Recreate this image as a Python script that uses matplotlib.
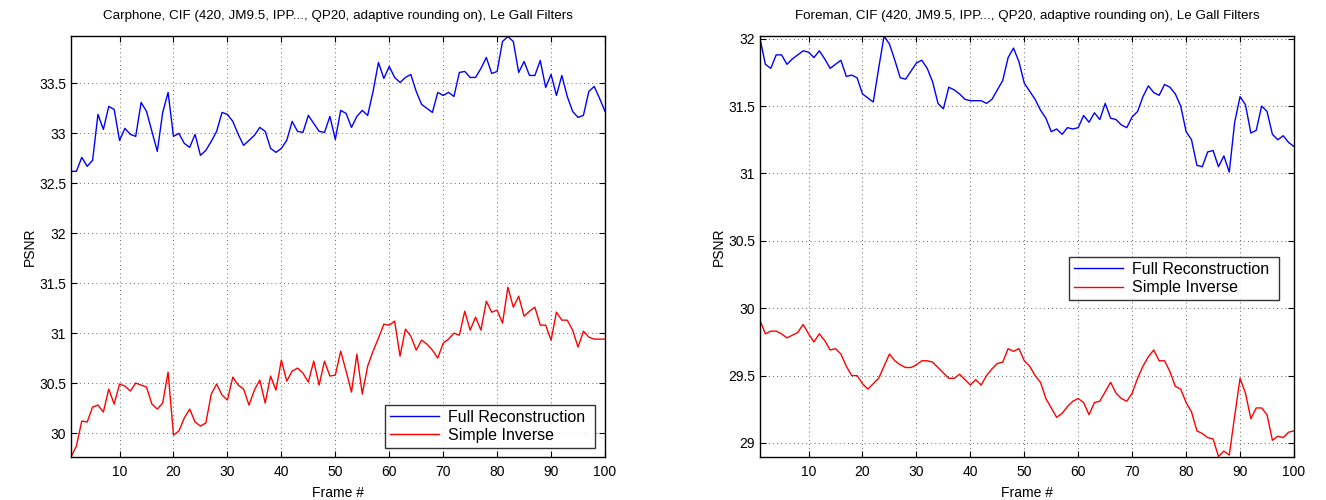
import matplotlib
matplotlib.use("Agg")
import matplotlib.pyplot as plt
import numpy as np

plt.rcParams['font.family'] = ['Liberation Sans', 'DejaVu Sans']

frames = list(range(1, 101))

carphone_full = [
    32.62, 32.62, 32.76, 32.67, 32.73, 33.19, 33.04, 33.27, 33.24, 32.93,
    33.05, 32.99, 32.97, 33.31, 33.22, 33.02, 32.82, 33.21, 33.41, 32.97,
    33.00, 32.90, 32.86, 32.99, 32.78, 32.83, 32.92, 33.02, 33.21, 33.19,
    33.12, 32.99, 32.88, 32.93, 32.98, 33.06, 33.02, 32.85, 32.81, 32.85,
    32.93, 33.12, 33.02, 33.01, 33.18, 33.10, 33.02, 33.01, 33.17, 32.94,
    33.23, 33.20, 33.06, 33.17, 33.23, 33.18, 33.42, 33.71, 33.55, 33.67,
    33.56, 33.51, 33.56, 33.59, 33.42, 33.29, 33.25, 33.21, 33.41, 33.38,
    33.41, 33.37, 33.61, 33.62, 33.56, 33.56, 33.65, 33.76, 33.60, 33.62,
    33.92, 33.97, 33.92, 33.61, 33.72, 33.58, 33.58, 33.73, 33.46, 33.59,
    33.38, 33.58, 33.37, 33.22, 33.16, 33.18, 33.42, 33.47, 33.35, 33.22,
]

carphone_simple = [
    29.76, 29.87, 30.12, 30.11, 30.26, 30.28, 30.21, 30.44, 30.29, 30.49,
    30.47, 30.42, 30.50, 30.48, 30.46, 30.29, 30.24, 30.30, 30.61, 29.98,
    30.02, 30.15, 30.24, 30.11, 30.07, 30.10, 30.39, 30.49, 30.38, 30.33,
    30.56, 30.48, 30.44, 30.28, 30.43, 30.53, 30.30, 30.57, 30.43, 30.73,
    30.52, 30.62, 30.65, 30.60, 30.51, 30.72, 30.48, 30.72, 30.57, 30.58,
    30.82, 30.62, 30.41, 30.79, 30.39, 30.67, 30.82, 30.95, 31.09, 31.08,
    31.12, 30.77, 31.04, 30.97, 30.83, 30.93, 30.89, 30.83, 30.75, 30.90,
    30.94, 31.00, 30.98, 31.22, 31.03, 31.16, 31.03, 31.32, 31.21, 31.23,
    31.10, 31.46, 31.26, 31.37, 31.17, 31.22, 31.26, 31.08, 31.08, 30.93,
    31.21, 31.13, 31.13, 31.03, 30.86, 31.02, 30.96, 30.94, 30.94, 30.94,
]

foreman_full = [
    32.00, 31.81, 31.78, 31.88, 31.88, 31.81, 31.85, 31.88, 31.91, 31.90,
    31.86, 31.91, 31.85, 31.78, 31.81, 31.84, 31.72, 31.73, 31.71, 31.59,
    31.56, 31.53, 31.78, 32.02, 31.96, 31.84, 31.71, 31.70, 31.76, 31.82,
    31.84, 31.78, 31.68, 31.52, 31.48, 31.64, 31.62, 31.59, 31.55, 31.54,
    31.54, 31.54, 31.52, 31.55, 31.62, 31.69, 31.86, 31.93, 31.83, 31.67,
    31.61, 31.55, 31.47, 31.41, 31.31, 31.33, 31.29, 31.34, 31.33, 31.34,
    31.43, 31.38, 31.45, 31.40, 31.52, 31.41, 31.40, 31.36, 31.34, 31.42,
    31.46, 31.57, 31.65, 31.60, 31.58, 31.66, 31.64, 31.59, 31.50, 31.31,
    31.25, 31.06, 31.05, 31.16, 31.17, 31.05, 31.13, 31.01, 31.38, 31.57,
    31.51, 31.30, 31.32, 31.50, 31.46, 31.29, 31.25, 31.28, 31.23, 31.20,
]

foreman_simple = [
    29.91, 29.81, 29.83, 29.83, 29.81, 29.78, 29.80, 29.82, 29.88, 29.81,
    29.75, 29.81, 29.76, 29.69, 29.70, 29.66, 29.57, 29.50, 29.50, 29.44,
    29.40, 29.44, 29.48, 29.57, 29.66, 29.61, 29.58, 29.56, 29.56, 29.58,
    29.61, 29.61, 29.60, 29.56, 29.52, 29.48, 29.48, 29.51, 29.47, 29.43,
    29.47, 29.43, 29.50, 29.55, 29.59, 29.60, 29.70, 29.68, 29.70, 29.61,
    29.57, 29.50, 29.45, 29.33, 29.26, 29.19, 29.22, 29.27, 29.31, 29.33,
    29.30, 29.21, 29.30, 29.31, 29.38, 29.45, 29.37, 29.33, 29.31, 29.37,
    29.48, 29.57, 29.64, 29.69, 29.61, 29.61, 29.53, 29.42, 29.40, 29.30,
    29.23, 29.09, 29.07, 29.04, 29.03, 28.90, 28.94, 28.91, 29.20, 29.48,
    29.37, 29.18, 29.26, 29.26, 29.21, 29.02, 29.05, 29.04, 29.08, 29.09,
]

titles = [
    "Carphone, CIF (420, JM9.5, IPP..., QP20, adaptive rounding on), Le Gall Filters",
    "Foreman, CIF (420, JM9.5, IPP..., QP20, adaptive rounding on), Le Gall Filters",
]
series_labels = ["Full Reconstruction", "Simple Inverse"]
xticks = [10, 20, 30, 40, 50, 60, 70, 80, 90, 100]
yticks_left = [30, 30.5, 31, 31.5, 32, 32.5, 33, 33.5]
yticks_right = [29, 29.5, 30, 30.5, 31, 31.5, 32]

fig = plt.figure(figsize=(13.26, 5.0), dpi=100)
ax1 = fig.add_axes([71/1326, 43/500, 534/1326, 421/500])
ax2 = fig.add_axes([760/1326, 43/500, 534/1326, 421/500])

configs = [
    (ax1, carphone_full, carphone_simple, titles[0], yticks_left,
     (29.76, 33.975), (0.588, 0.017, 0.393, 0.111)),
    (ax2, foreman_full, foreman_simple, titles[1], yticks_right,
     (28.896, 32.02), (0.579, 0.363, 0.393, 0.122)),
]

for ax, full, simple, title, yt, ylim, lbox in configs:
    ax.plot(frames, full, color=(0, 0, 1), lw=1.0, label=series_labels[0])
    ax.plot(frames, simple, color=(1, 0, 0), lw=1.0, label=series_labels[1])
    ax.set_xlim(1, 100)
    ax.set_ylim(*ylim)
    ax.set_xticks(xticks)
    ax.set_yticks(yt)
    ax.set_yticklabels([("%g" % v) for v in yt])
    ax.tick_params(direction='in', length=4, labelsize=10, top=True, right=True,
                   colors='black', width=0.8)
    ax.tick_params(axis='x', pad=5.5)
    ax.grid(True, linestyle=(0, (1, 4)), color='black', lw=0.6, alpha=0.8)
    for s in ax.spines.values():
        s.set_linewidth(1.0)
    ax.set_title(title, fontsize=9.6, pad=12.5)
    ax.set_xlabel("Frame #", fontsize=10, labelpad=5)
    ax.set_ylabel("PSNR", fontsize=10, labelpad=1.5)
    leg = ax.legend(loc='center', bbox_to_anchor=lbox, mode='expand',
                    fontsize=11.5, frameon=True, fancybox=False, edgecolor='black',
                    handlelength=3.1, borderaxespad=0, borderpad=0.3,
                    labelspacing=0.2, handletextpad=0.55)
    leg.get_frame().set_linewidth(1.0)

fig.savefig("out.png", dpi=100)
